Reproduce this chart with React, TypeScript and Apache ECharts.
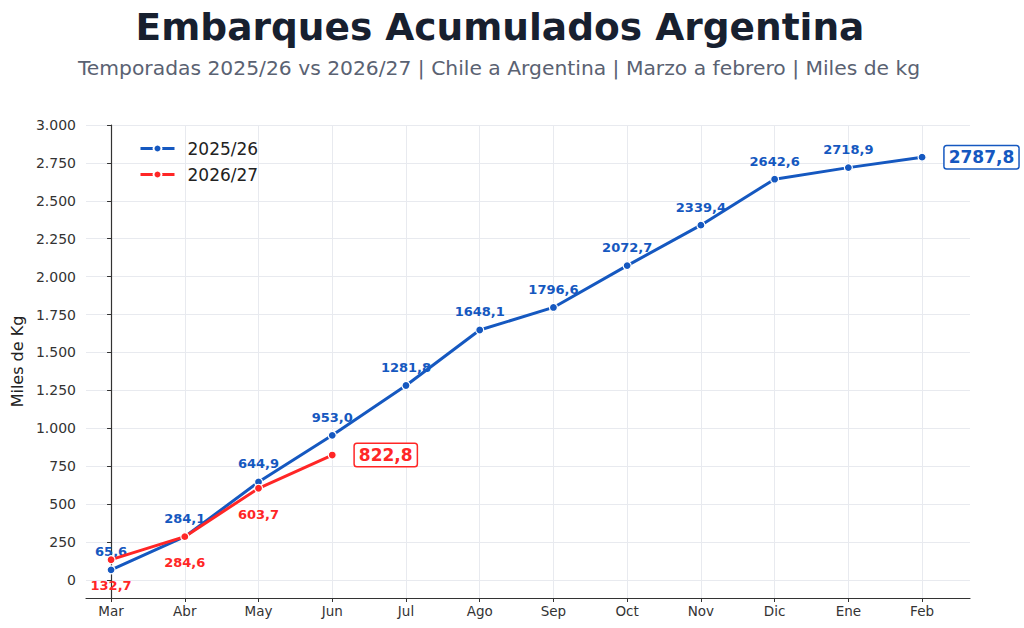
import React, { useEffect, useRef } from 'react';
import * as echarts from 'echarts';

const months = ['Mar', 'Abr', 'May', 'Jun', 'Jul', 'Ago', 'Sep', 'Oct', 'Nov', 'Dic', 'Ene', 'Feb'];
const season2526 = [65.6, 284.1, 644.9, 953.0, 1281.8, 1648.1, 1796.6, 2072.7, 2339.4, 2642.6, 2718.9, 2787.8];
const season2627 = [132.7, 284.6, 603.7, 822.8];
const yTicks = [0, 250, 500, 750, 1000, 1250, 1500, 1750, 2000, 2250, 2500, 2750, 3000];

const BLUE = '#1558c0';
const RED = '#ff2626';
const FONT = 'DejaVu Sans';

const fmtDec = (v: number) => v.toFixed(1).replace('.', ',');
const fmtThousands = (v: number) => String(v).replace(/\B(?=(\d{3})+(?!\d))/g, '.');

// builds points, small labels on each one and a boxed label on the last
const buildData = (values: number[], color: string, above: boolean) =>
  values.map((v, i) => {
    const last = i === values.length - 1;
    return {
      value: [i, v],
      label: last
        ? {
            show: true,
            position: 'right',
            distance: 18,
            formatter: fmtDec(v),
            color,
            fontSize: 17,
            fontWeight: 'bold',
            fontFamily: FONT,
            backgroundColor: '#fff',
            borderColor: color,
            borderWidth: 1.5,
            borderRadius: 2,
            padding: [3, 4, 2, 4],
          }
        : {
            show: true,
            position: above ? 'top' : 'bottom',
            distance: above ? 7 : 15,
            formatter: fmtDec(v),
            color,
            fontSize: 13,
            fontWeight: 'bold',
            fontFamily: FONT,
          },
    };
  });

const App: React.FC = () => {
  const chartRef = useRef<HTMLDivElement>(null);

  useEffect(() => {
    if (!chartRef.current) return;
    const myChart = echarts.init(chartRef.current, undefined, { renderer: 'svg' });

    const idx = months.map((_, i) => i);

    const option: any = {
      animation: false,
      backgroundColor: '#fff',
      title: [
        {
          text: 'Embarques Acumulados Argentina',
          left: 495,
          textAlign: 'center',
          top: 3,
          textStyle: { fontFamily: FONT, fontSize: 37.5, fontWeight: 'bold', color: '#17202f' },
        },
        {
          text: 'Temporadas 2025/26 vs 2026/27 | Chile a Argentina | Marzo a febrero | Miles de kg',
          left: 494,
          textAlign: 'center',
          top: 53,
          textStyle: { fontFamily: FONT, fontSize: 20.3, fontWeight: 'normal', color: '#5a6272' },
        },
      ],
      legend: {
        orient: 'vertical',
        left: 139,
        top: 140,
        padding: 0,
        itemWidth: 34,
        itemHeight: 10,
        itemGap: 9,
        lineStyle: { width: 3 },
        textStyle: { fontFamily: FONT, fontSize: 17, color: '#222', padding: [0, 0, 0, 8] },
        data: ['2025/26', '2026/27'],
      },
      grid: { left: 86, right: 54, top: 125, bottom: 30, containLabel: false },
      xAxis: {
        type: 'value',
        min: -0.34,
        max: 11.65,
        axisLine: { show: true, onZero: false, lineStyle: { color: '#333', width: 1.2 } },
        axisTick: { show: true, customValues: idx, length: 4, lineStyle: { color: '#333' } },
        axisLabel: {
          customValues: idx,
          formatter: (v: number) => months[Math.round(v)],
          fontFamily: FONT,
          fontSize: 13.5,
          color: '#333',
          margin: 6,
        },
        splitLine: { show: true, lineStyle: { color: '#e8eaef', width: 1 } },
      },
      yAxis: {
        type: 'value',
        min: -120,
        max: 3000,
        name: 'Miles de Kg',
        nameLocation: 'middle',
        nameGap: 60,
        nameTextStyle: { fontFamily: FONT, fontSize: 16, color: '#222' },
        axisLine: { show: true, lineStyle: { color: '#333', width: 1.2 } },
        axisTick: { show: true, customValues: yTicks, length: 4, lineStyle: { color: '#333' } },
        axisLabel: {
          customValues: yTicks,
          formatter: (v: number) => fmtThousands(v),
          fontFamily: FONT,
          fontSize: 14,
          color: '#333',
          margin: 10,
        },
        splitLine: { show: true, lineStyle: { color: '#e8eaef', width: 1 } },
      },
      series: [
        {
          name: '2025/26',
          type: 'line',
          data: buildData(season2526, BLUE, true),
          symbol: 'circle',
          symbolSize: 8,
          lineStyle: { color: BLUE, width: 3 },
          itemStyle: { color: BLUE, borderColor: '#fff', borderWidth: 1.2 },
          z: 2,
        },
        {
          name: '2026/27',
          type: 'line',
          data: buildData(season2627, RED, false),
          symbol: 'circle',
          symbolSize: 8,
          lineStyle: { color: RED, width: 3 },
          itemStyle: { color: RED, borderColor: '#fff', borderWidth: 1.2 },
          z: 3,
        },
      ],
    };

    myChart.setOption(option);

    return () => {
      myChart.dispose();
    };
  }, []);

  return (
    <div
      ref={chartRef}
      style={{ position: 'fixed', left: 0, top: 0, width: '1024px', height: '628px' }}
    />
  );
};

export default App;
